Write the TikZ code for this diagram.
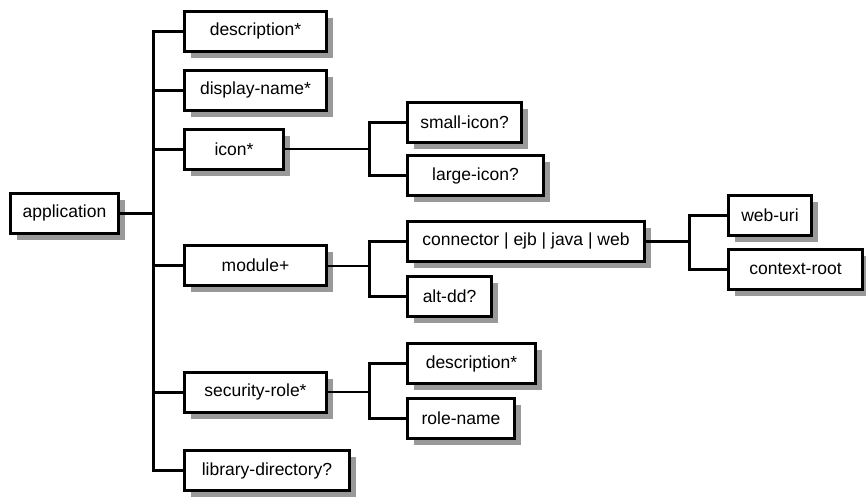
\documentclass[tikz,border=0pt]{standalone}
\usepackage{fontspec}
\setmainfont{Liberation Sans}
\usetikzlibrary{shadows}
\definecolor{ash}{RGB}{153,153,153}

\begin{document}
\begin{tikzpicture}[
    x=1pt, y=-1pt,
    elem/.style={draw, line width=3pt, fill=white, inner sep=0pt, minimum height=40pt,
                 font=\fontsize{17.5}{20}\selectfont, align=center,
                 drop shadow={shadow xshift=6.5pt, shadow yshift=-6.5pt, fill=ash, opacity=1}},
    fork/.style={draw, line width=3pt, line cap=rect},
    link/.style={draw, line width=2pt}
]
    \useasboundingbox (0,0) rectangle (866,496);
    % Root element
    \node[elem, minimum width=108pt] (app) at (64.5,213) {application};
    % Level 1: children of application
    \node[elem, minimum width=142pt] (desc)    at (255.5,31)    {description*};
    \node[elem, minimum width=142pt] (dname)   at (255.5,90)    {display-name*};
    \node[elem, minimum width=99pt]  (icon)    at (234,149)     {icon*};
    \node[elem, minimum width=142pt] (module)  at (255.5,265.5) {module+};
    \node[elem, minimum width=142pt] (secrole) at (255.5,392)   {security-role*};
    \node[elem, minimum width=165pt] (libdir)  at (267,470.5)   {library-directory?};
    % Level 2: children of icon, module and security-role
    \node[elem, minimum width=114pt] (small)    at (464.5,122)   {small-icon?};
    \node[elem, minimum width=136pt] (large)    at (475.5,175.5) {large-icon?};
    \node[elem, minimum width=237pt] (conn)     at (526,241)     {connector | ejb | java | web};
    \node[elem, minimum width=84pt]  (altdd)    at (449.5,296)   {alt-dd?};
    \node[elem, minimum width=128pt] (sdesc)    at (471.5,363.5) {description*};
    \node[elem, minimum width=107pt] (rolename) at (461,418)     {role-name};
    % Level 3: children of connector | ejb | java | web
    \node[elem, minimum width=83pt]  (weburi)  at (770,215.5)   {web-uri};
    \node[elem, minimum width=134pt] (ctxroot) at (795.5,269)   {context-root};

    % Forks
    \coordinate (rootfork) at (153,0);
    \coordinate (subfork)  at (369,0);
    \coordinate (connfork) at (689,0);
    \draw[fork] (app.east) -- (app.east -| rootfork);
    \draw[fork] (rootfork |- desc.west) -- (rootfork |- libdir.west);
    \foreach \n in {desc,dname,icon,module,secrole,libdir}
        \draw[fork] (rootfork |- \n.west) -- (\n.west);
    \foreach \p/\a/\b in {icon/small/large, module/conn/altdd, secrole/sdesc/rolename} {
        \draw[link] (\p.east) -- (\p.east -| subfork);
        \draw[fork] (subfork |- \a.west) -- (subfork |- \b.west);
        \draw[fork] (subfork |- \a.west) -- (\a.west);
        \draw[fork] (subfork |- \b.west) -- (\b.west);
    }
    \draw[fork] (conn.east) -- (conn.east -| connfork);
    \draw[fork] (connfork |- weburi.west) -- (connfork |- ctxroot.west);
    \draw[fork] (connfork |- weburi.west) -- (weburi.west);
    \draw[fork] (connfork |- ctxroot.west) -- (ctxroot.west);
\end{tikzpicture}
\end{document}
